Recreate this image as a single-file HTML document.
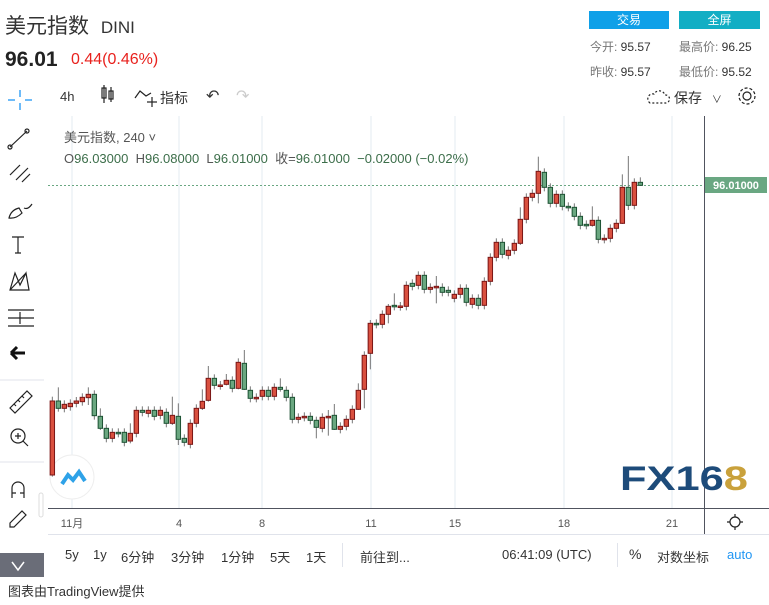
<!DOCTYPE html>
<html><head><meta charset="utf-8"><style>
body{margin:0;width:769px;height:605px;background:#fff;font-family:"Liberation Sans","Noto Sans CJK SC",sans-serif;overflow:hidden;position:relative;color:#333}
.a{position:absolute;white-space:nowrap}
.b{position:absolute;top:547px;font-size:13px;color:#333;white-space:nowrap}
</style></head><body>
<div class="a" style="left:5px;top:10px;font-size:21px;color:#333">美元指数 <span style="font-size:17px;margin-left:6px">DINI</span></div>
<div class="a" style="left:5px;top:48px;font-size:21px;font-weight:bold;color:#222">96.01</div>
<div class="a" style="left:71px;top:51px;font-size:16px;color:#e8211d">0.44(0.46%)</div>
<div class="a" style="left:589px;top:11px;width:80px;height:18px;background:#0fa0e8;color:#fff;font-size:12px;text-align:center;line-height:18px">交易</div>
<div class="a" style="left:679px;top:11px;width:81px;height:18px;background:#12aec4;color:#fff;font-size:12px;text-align:center;line-height:18px">全屏</div>
<div class="a" style="left:590px;top:38px;font-size:12px;color:#777">今开: <span style="color:#333">95.57</span></div>
<div class="a" style="left:679px;top:38px;font-size:12px;color:#777">最高价: <span style="color:#333">96.25</span></div>
<div class="a" style="left:590px;top:63px;font-size:12px;color:#777">昨收: <span style="color:#333">95.57</span></div>
<div class="a" style="left:679px;top:63px;font-size:12px;color:#777">最低价: <span style="color:#333">95.52</span></div>
<div class="a" style="left:60px;top:89px;font-size:13px">4h</div>
<div class="a" style="left:160px;top:88px;font-size:14px">指标</div>
<div class="a" style="left:206px;top:86px;font-size:16px">↶</div>
<div class="a" style="left:236px;top:86px;font-size:16px;color:#ccc">↷</div>
<div class="a" style="left:674px;top:88px;font-size:14px">保存 <span style="font-size:10px;margin-left:6px">∨</span></div>
<svg class="a" style="left:0;top:0" width="769" height="605">
<g stroke="#2196f3" stroke-width="1.3"><line x1="20" y1="90" x2="20" y2="97"/><line x1="20" y1="103" x2="20" y2="110"/><line x1="8" y1="100" x2="15" y2="100"/><line x1="25" y1="100" x2="32" y2="100"/></g>
<g fill="none" stroke="#222" stroke-width="1.2">
<rect x="102" y="88" width="4" height="10"/><line x1="104" y1="85" x2="104" y2="103"/><rect x="109" y="91" width="4" height="8"/><line x1="111" y1="87" x2="111" y2="102"/>
<polyline points="135,98 140,91 146,96 151,93"/><line x1="152" y1="97" x2="152" y2="107"/><line x1="147" y1="102" x2="157" y2="102"/>
<path d="M650 103 a5 5 0 0 1 4-9 a6 6 0 0 1 11 1 a4 4 0 0 1 1 8 z" stroke-dasharray="2 2"/>
<circle cx="747" cy="96" r="4"/><circle cx="747" cy="96" r="8" stroke-dasharray="3 2"/>
<line x1="10" y1="147" x2="27" y2="131"/><circle cx="10" cy="147" r="2"/><circle cx="27" cy="131" r="2"/>
<line x1="10" y1="175" x2="20" y2="165"/><line x1="16" y1="180" x2="28" y2="168"/><line x1="22" y1="182" x2="30" y2="174"/>
<path d="M9 218 q2-8 10-10 l3 5 q-6 6-13 5z"/><path d="M24 208 q4 2 8-4"/>
<path d="M12 237 h12 M18 237 v16 M15 253 h6"/>
<path d="M10 290 l5-17 5 12 6-12 3 17 z M10 290 l16-17"/>
<path d="M8 310 h26 M8 318 h26 M8 326 h26 M20 312 v12"/>
<path d="M10 408 l17-17 5 5 -17 17 z M14 404 l2 2 M18 400 l2 2 M22 396 l2 2"/>
<circle cx="18" cy="436" r="7"/><path d="M23 441 l5 5 M15 436 h6 M18 433 v6"/>
<path d="M12 498 v-10 a6 6 0 0 1 12 0 v10 M12 493 h4 M20 493 h4"/>
<path d="M10 523 l12-12 4 4 -12 12 h-4z"/>
<circle cx="735" cy="522" r="5"/><path d="M735 514v3M735 527v3M727 522h3M740 522h3"/>
</g>
<path d="M11 353 h14 M11 353 l6-6 M11 353 l6 6" stroke="#111" stroke-width="3" fill="none"/>
<line x1="0" y1="380" x2="44" y2="380" stroke="#e0e3eb"/><line x1="0" y1="462" x2="44" y2="462" stroke="#e0e3eb"/>
<rect x="0" y="553" width="44" height="24" fill="#6a6d78"/>
<path d="M12 562 l6 8 6-8" stroke="#fff" stroke-width="1.5" fill="none"/>
<rect x="39" y="493" width="4" height="24" rx="2" fill="none" stroke="#ddd"/>
<g stroke="#e3ebf2" stroke-width="1"><line x1="72" y1="116" x2="72" y2="508"/><line x1="179" y1="116" x2="179" y2="508"/><line x1="262" y1="116" x2="262" y2="508"/><line x1="371" y1="116" x2="371" y2="508"/><line x1="455" y1="116" x2="455" y2="508"/><line x1="564" y1="116" x2="564" y2="508"/><line x1="672" y1="116" x2="672" y2="508"/></g>
<line x1="48" y1="508.5" x2="769" y2="508.5" stroke="#50535e"/>
<line x1="704.5" y1="116" x2="704.5" y2="534" stroke="#50535e"/>
<line x1="48" y1="534.5" x2="769" y2="534.5" stroke="#e0e3eb"/>
<line x1="48" y1="185.5" x2="704" y2="185.5" stroke="#6aa782" stroke-dasharray="2 2"/>
<rect x="705" y="177" width="62" height="16" fill="#6aa782"/>
<text x="736" y="189" font-size="11" font-weight="bold" fill="#fff" text-anchor="middle" font-family="Liberation Sans">96.01000</text>
<g font-size="11" fill="#555" text-anchor="middle" font-family="Liberation Sans,Noto Sans CJK SC"><text x="72" y="527">11月</text><text x="179" y="527">4</text><text x="262" y="527">8</text><text x="371" y="527">11</text><text x="455" y="527">15</text><text x="564" y="527">18</text><text x="672" y="527">21</text></g>
<circle cx="72" cy="477" r="22" fill="#fff" stroke="#eee"/>
<path d="M62 484 l6-9 5 5 6-8 6 9" stroke="#2ea2e8" stroke-width="4" fill="none"/>
<text x="620" y="490" font-size="34" font-weight="bold" fill="#1d4b7a" font-family="Liberation Sans" textLength="128" lengthAdjust="spacingAndGlyphs">FX16<tspan fill="#c9a13b">8</tspan></text>
<g id="c"></g>
</svg>
<div class="a" style="left:64px;top:127px;font-size:13px;color:#555">美元指数, 240 ˅</div>
<div class="a" style="left:64px;top:148px;font-size:13px;color:#3c6e4a"><span style="color:#555">O</span>96.03000&nbsp; <span style="color:#555">H</span>96.08000&nbsp; <span style="color:#555">L</span>96.01000&nbsp; <span style="color:#555">收=</span>96.01000&nbsp; −0.02000 (−0.02%)</div>
<div class="b" style="left:65px">5y</div>
<div class="b" style="left:93px">1y</div>
<div class="b" style="left:121px">6分钟</div>
<div class="b" style="left:171px">3分钟</div>
<div class="b" style="left:221px">1分钟</div>
<div class="b" style="left:270px">5天</div>
<div class="b" style="left:306px">1天</div>
<div class="a" style="left:342px;top:543px;width:1px;height:24px;background:#e0e3eb"></div>
<div class="b" style="left:360px">前往到...</div>
<div class="b" style="left:502px">06:41:09 (UTC)</div>
<div class="a" style="left:617px;top:543px;width:1px;height:24px;background:#e0e3eb"></div>
<div class="b" style="left:629px;font-size:14px;top:546px">%</div>
<div class="b" style="left:657px">对数坐标</div>
<div class="b" style="left:727px;color:#2196f3">auto</div>
<div class="a" style="left:8px;top:581px;font-size:13px;color:#333">图表由TradingView提供</div>
<script>
var A=[[37,753,975,1,740,980],[55,753,775,0,712,785],[73,763,775,1],[91,760,770,1],[109,753,760,1],[127,742,755,1],[145,733,743,1,712,765],[163,733,797,0],[181,799,835,0,775,840],[199,835,865,0],[217,847,865,1],[235,847,850,0],[253,847,877,0],[271,850,873,1,820,880],[289,781,850,1],[307,781,787,0],[325,781,790,1],[343,781,799,0],[361,781,796,1],[379,787,820,0],[397,796,820,1,740,825],[415,799,868,0,760,885],[433,865,877,0],[451,820,883,1],[469,775,820,1],[487,754,775,1,718,780],[505,685,751,1,648,755],[523,685,706,0],[541,705,707,1],[559,691,703,1,672,706],[577,691,715,0],[595,637,715,1,625,718],[613,640,718,0,600,720],[631,721,745,0],[649,742,745,1],[667,721,739,1],[685,721,739,0],[703,712,739,1],[721,712,718,0,685,725],[739,721,742,0],[757,742,808,0],[775,802,808,1],[793,799,802,1],[811,799,811,0],[829,811,832,0,800,865],[847,802,835,1],[865,799,802,1,780,857],[883,796,838,0,762,840],[901,829,838,1],[919,808,829,1],[937,778,808,1],[955,721,778,1,700,780],[973,616,718,1,604,775],[991,520,610,1,510,658],[1009,520,523,0],[1027,493,523,1],[1045,469,493,1,462,520],[1063,466,469,0,430,481],[1081,468,470,1],[1099,406,469,1],[1117,400,409,0],[1135,376,406,1],[1153,376,418,0],[1171,412,418,1],[1189,409,412,1,378,460]];
var B=[[307,412,427,0],[325,421,427,0],[343,433,445,1],[361,415,433,1],[379,415,457,0],[397,445,463,1],[415,445,466,0],[433,394,466,1],[451,322,394,1],[469,277,322,1],[487,277,313,0],[505,301,316,1],[523,280,301,1],[541,208,280,1,172,285],[559,142,208,1],[577,130,142,1],[595,64,130,1,20,160],[613,67,112,0],[631,112,160,0],[649,133,160,1],[667,133,169,0],[685,169,172,0],[703,172,199,0],[721,199,226,0],[739,223,226,0],[757,211,226,1,169,230],[775,211,268,0],[793,265,268,1],[811,235,265,1],[829,220,235,1],[847,112,220,1,73,222],[865,112,166,0,18,180],[883,97,166,1],[901,97,106,0,82,108]];
var s='';
function add(x,t,b,r,wt,wb){
 if(wt==null)wt=t-4;if(wb==null)wb=b+4;
 var fc=r?'#d9503f':'#6aa780',sc=r?'#7a1616':'#1d5233';
 var h=Math.max(b-t,1.5);
 s+='<line x1="'+x+'" y1="'+wt+'" x2="'+x+'" y2="'+wb+'" stroke="#777" stroke-width="1"/>';
 s+='<rect x="'+(x-2.2)+'" y="'+t+'" width="4.4" height="'+h+'" fill="'+fc+'" stroke="'+sc+'" stroke-width="1"/>';
}
A.forEach(function(c){var f=function(v){return 150+v/3};add(40+c[0]/3,f(c[1]),f(c[2]),c[3],c[4]!=null?f(c[4]):null,c[5]!=null?f(c[5]):null)});
B.forEach(function(c){var f=function(v){return 150+v/3};add(340+c[0]/3,f(c[1]),f(c[2]),c[3],c[4]!=null?f(c[4]):null,c[5]!=null?f(c[5]):null)});
document.getElementById('c').innerHTML=s;
</script>
</body></html>
